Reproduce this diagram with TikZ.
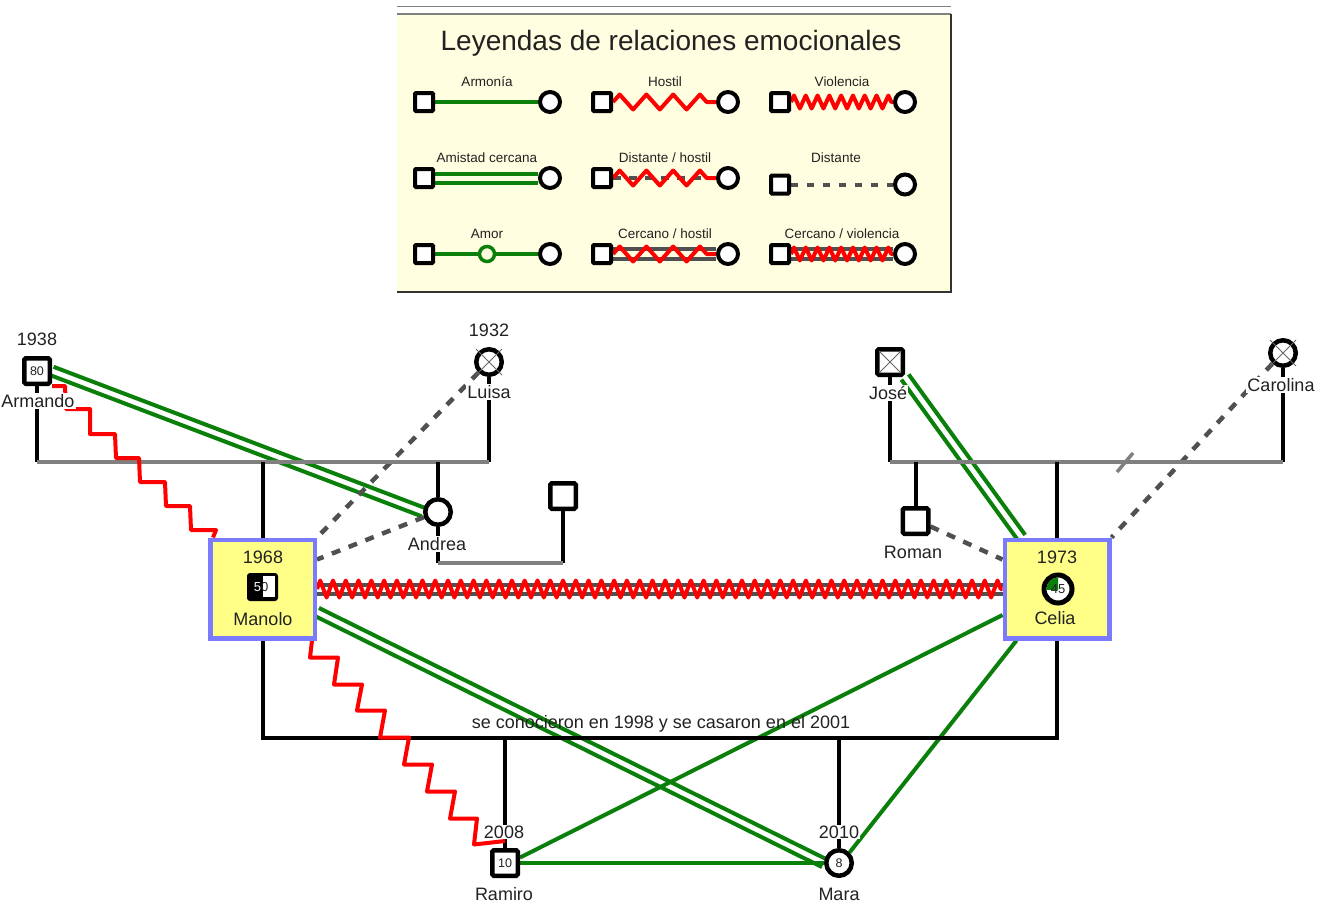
\documentclass[tikz,border=0pt]{standalone}
\usepackage{fontspec}
\setmainfont{Liberation Sans}
\usetikzlibrary{calc,decorations.pathmorphing}
\pgfdeclarelayer{bgl}\pgfdeclarelayer{rel}\pgfdeclarelayer{fam}\pgfdeclarelayer{redl}
\pgfsetlayers{bgl,rel,fam,redl,main}
\definecolor{grn}{HTML}{0A800A}
\definecolor{dgray}{HTML}{505050}
\definecolor{fgray}{HTML}{808080}
\definecolor{boxy}{HTML}{FFFF88}
\definecolor{boxb}{HTML}{7B7BFF}
\definecolor{legbg}{HTML}{FFFEE0}
\definecolor{txt}{HTML}{222222}
\newcommand\fs[1]{\fontsize{#1}{#1}\selectfont}
\newcommand\twolines[4]{%
  \draw[#1] ($(#3)!#2!90:(#4)$) -- ($(#4)!#2!-90:(#3)$);
  \draw[#1] ($(#3)!#2!-90:(#4)$) -- ($(#4)!#2!90:(#3)$);}
\tikzset{
  sq/.style={draw=black, line width=4.5pt, fill=white, minimum size=25.5pt, inner sep=0pt, rounded corners=1.5pt, font=\fs{12.5}, text=txt},
  ci/.style={circle, draw=black, line width=4.5pt, fill=white, minimum size=25.5pt, inner sep=0pt, font=\fs{12.5}, text=txt},
  lsq/.style={draw=black, line width=4pt, fill=white, minimum size=18pt, inner sep=0pt, rounded corners=1pt},
  lci/.style={circle, draw=black, line width=4pt, fill=white, minimum size=20pt, inner sep=0pt},
  lbl/.style={font=\fs{18}, text=txt, fill=white, inner sep=1pt},
  boxlbl/.style={font=\fs{18}, text=txt, inner sep=0pt},
  llbl/.style={font=\fs{13.5}, text=txt, inner sep=0pt},
  fambox/.style={draw=boxb, fill=boxy, line width=4.5pt, minimum width=104.5pt, minimum height=98.5pt, inner sep=0pt},
  famline/.style={line width=4pt, black},
  sibline/.style={line width=4.5pt, fgray},
  grnline/.style={line width=4pt, grn},
  dgl/.style={line width=4pt, dgray},
  dashline/.style={line width=4.5pt, dgray, dash pattern=on 9pt off 9pt},
  redline/.style={line width=4pt, red, line join=round},
  zz/.style 2 args={redline, decorate, decoration={zigzag, segment length=#1, amplitude=#2}},
  xm/.style={line width=0.8pt, black!60},
}
\begin{document}
\begin{tikzpicture}[x=1pt,y=-1pt]
\useasboundingbox (0,0) rectangle (1325,903);
% ---------------- legend ----------------
\begin{pgfonlayer}{bgl}
\fill[legbg] (397,14) rectangle (951,292);
\end{pgfonlayer}
\draw[gray, line width=1.5pt] (397,6.5) -- (951,6.5);
\draw[gray, line width=1.5pt] (397,14) -- (951,14);
\draw[black!80, line width=1.5pt] (951,14) -- (951,292) -- (397,292);
\node[font=\fs{28}, text=txt, inner sep=0pt] (ttl) at (671,43) {Leyendas de relaciones emocionales};
\node[llbl] (l11) at (487,82) {Armonía};
\node[llbl] (l12) at (665,82) {Hostil};
\node[llbl] (l13) at (842,82) {Violencia};
\node[llbl] (l21) at (487,158) {Amistad cercana};
\node[llbl] (l22) at (665,158) {Distante / hostil};
\node[llbl] (l23) at (836,158) {Distante};
\node[llbl] (l31) at (487,234) {Amor};
\node[llbl] (l32) at (665,234) {Cercano / hostil};
\node[llbl] (l33) at (842,234) {Cercano / violencia};
\node[lsq] (s11) at (424,102) {}; \node[lci] (c11) at (550,102) {};
\node[lsq] (s12) at (602,102) {}; \node[lci] (c12) at (728,102) {};
\node[lsq] (s13) at (780,102) {}; \node[lci] (c13) at (905,102) {};
\node[lsq] (s21) at (424,178) {}; \node[lci] (c21) at (550,178) {};
\node[lsq] (s22) at (602,178) {}; \node[lci] (c22) at (728,178) {};
\node[lsq] (s23) at (780,184.5) {}; \node[lci] (c23) at (905,184.5) {};
\node[lsq] (s31) at (424,254) {}; \node[lci] (c31) at (550,254) {};
\node[circle, draw=grn, line width=3.5pt, fill=legbg, minimum size=15pt, inner sep=0pt] (amor) at (487,254) {};
\node[lsq] (s32) at (602,254) {}; \node[lci] (c32) at (728,254) {};
\node[lsq] (s33) at (780,254) {}; \node[lci] (c33) at (905,254) {};
\begin{pgfonlayer}{rel}
\draw[grnline] (s11) -- (c11);
\draw[zz={26.75pt}{7.5pt}] (s12.east) -- (c12.west);
\draw[zz={11.8pt}{6.5pt}] (s13.east) -- (c13.west);
\twolines{grnline}{4.5pt}{s21.east}{c21.west}
\draw[dashline, dash pattern=on 8pt off 8pt] (s22.east) -- (c22.west);
\draw[zz={26.75pt}{7.5pt}] (s22.east) -- (c22.west);
\draw[dashline, line width=4pt, dash pattern=on 7pt off 9pt] (s23.east) -- (c23.west);
\draw[grnline] (s31) -- (amor) -- (c31);
\twolines{dgl}{5pt}{s32.east}{c32.west}
\draw[zz={26.75pt}{7.5pt}] (s32.east) -- (c32.west);
\twolines{dgl}{5pt}{s33.east}{c33.west}
\draw[zz={11.8pt}{6.5pt}] (s33.east) -- (c33.west);
\end{pgfonlayer}
% ---------------- people ----------------
\node[sq] (arm) at (37,371) {80};
\node[lbl] (armY) at (37,339) {1938};
\node[lbl] (armN) at (38,401) {Armando};
\node[ci] (lui) at (489,362) {};
\node[lbl] (luiY) at (489,330) {1932};
\node[lbl] (luiN) at (489,392) {Luisa};
\node[ci] (and) at (438,512) {};
\node[lbl] (andN) at (437,544) {Andrea};
\node[sq] (apt) at (563,496) {};
\node[fambox] (mbox) at (262.5,589) {};
\node[boxlbl] (manY) at (263,557) {1968};
\node[boxlbl] (manN) at (263,619) {Manolo};
\node[fill=black, rounded corners=3pt, minimum width=31pt, minimum height=28pt, inner sep=0pt] (msym) at (262.5,587) {};
\node[fill=white, minimum width=12pt, minimum height=21pt, inner sep=0pt] (mwh) at (269,586.5) {};
\node[font=\fs{13}, text=txt, inner sep=0pt] (mage) at (261,587) {\textcolor{white}{5}0};
\node[fambox] (cbox) at (1057,589) {};
\node[boxlbl] (celY) at (1057,557) {1973};
\node[boxlbl] (celN) at (1055,618) {Celia};
\node[ci, line width=5pt, minimum size=28pt] (csym) at (1058,589) {};
\begin{scope}
\clip (csym.center) rectangle ++(-15,-15);
\fill[grn] (csym.center) circle[radius=11.5pt];
\end{scope}
\node[font=\fs{13}, text=txt, inner sep=0pt] (cage) at (1058,589) {45};
\node[sq] (jos) at (890,362) {};
\node[lbl] (josN) at (888,393) {José};
\node[ci] (car) at (1283,353) {};
\node[lbl] (carN) at (1281,385) {Carolina};
\node[sq] (rom) at (915.5,521) {};
\node[lbl] (romN) at (913,552) {Roman};
\node[sq] (ram) at (505,863) {10};
\node[lbl] (ramY) at (504,832) {2008};
\node[lbl] (ramN) at (504,894) {Ramiro};
\node[ci] (mar) at (839,863) {8};
\node[lbl] (marY) at (839,832) {2010};
\node[lbl] (marN) at (839,894) {Mara};
\node[boxlbl] (mtxt) at (661,724) {se conocieron en 1998 y se casaron en el 2001};
% X marks (deceased)
\draw[xm] ($(lui.center)+(-13,-13)$) -- ($(lui.center)+(13,13)$);
\draw[xm] ($(lui.center)+(13,-13)$) -- ($(lui.center)+(-13,13)$);
\draw[xm] ($(car.center)+(-13,-13)$) -- ($(car.center)+(13,13)$);
\draw[xm] ($(car.center)+(13,-13)$) -- ($(car.center)+(-13,13)$);
\draw[xm] ($(jos.center)+(-11,-11)$) -- ($(jos.center)+(11,11)$);
\draw[xm] ($(jos.center)+(11,-11)$) -- ($(jos.center)+(-11,11)$);
% ---------------- family lines ----------------
\coordinate (s1) at (0,462);
\coordinate (s3) at (0,563);
\coordinate (mm) at (0,738);
\coordinate (dv) at (1125,462);
\begin{pgfonlayer}{fam}
\draw[famline] (arm.south) -- (arm.south |- s1);
\draw[famline] (lui.south) -- (lui.south |- s1);
\draw[sibline] (arm.south |- s1) -- (lui.south |- s1);
\draw[famline] (mbox.north) -- (mbox.north |- s1);
\draw[famline] (and.north) -- (and.north |- s1);
\draw[famline] (and.south) -- (and.south |- s3);
\draw[famline] (apt.south) -- (apt.south |- s3);
\draw[sibline] (and.south |- s3) -- (apt.south |- s3);
\draw[famline] (jos.south) -- (jos.south |- s1);
\draw[famline] (car.south) -- (car.south |- s1);
\draw[sibline] (jos.south |- s1) -- (car.south |- s1);
\draw[famline] (rom.north) -- (rom.north |- s1);
\draw[famline] (cbox.north) -- (cbox.north |- s1);
\draw[sibline, line width=3.5pt] ($(dv)+(-8,10)$) -- ($(dv)+(8,-9)$);
\draw[famline] (mbox.south) -- (mbox.south |- mm) -- (cbox.south |- mm) -- (cbox.south);
\draw[famline] (ram.north) -- (ram.north |- mm);
\draw[famline] (mar.north) -- (mar.north |- mm);
\end{pgfonlayer}
% ---------------- relations ----------------
\coordinate (cJ) at ($(cbox.north west)+(19,0)$);
\coordinate (mM) at ($(mbox.east)+(0,23)$);
\coordinate (cR) at ($(cbox.west)+(0,26)$);
\coordinate (cM) at ($(cbox.south west)+(14,0)$);
\begin{pgfonlayer}{rel}
\twolines{grnline}{4.5pt}{arm.east}{and.west}
\twolines{grnline}{4.5pt}{jos.south east}{cJ}
\twolines{grnline}{4.5pt}{mM}{mar.west}
\draw[grnline] (cR) -- (ram.20);
\draw[grnline] (cM) -- (mar.north east);
\draw[grnline] (ram.east) -- (mar.west);
\draw[dashline] (lui.south west) -- (mbox.north east);
\draw[dashline] (and.200) -- ($(mbox.north east)+(0,22)$);
\draw[dashline] (car.south west) -- (cbox.north east);
\draw[dashline] (rom.-20) -- ($(cbox.north west)+(0,22)$);
\twolines{dgl}{4.5pt}{mbox.east}{cbox.west}
\draw[zz={12.78pt}{8.5pt}] (mbox.east) -- (cbox.west);
\end{pgfonlayer}
\begin{pgfonlayer}{redl}
\draw[redline] (arm.south east) -- ++(13,0) -- ++(1,23) -- ++(24,0) -- ++(0,25) -- ++(25,0)
  -- ++(1,24) -- ++(23,0) -- ++(1,24) -- ++(25,0) -- ++(1,24) -- ++(24,0) -- ++(1,24)
  -- ++(25,0) -- ($(mbox.north west)+(5,0)$);
\draw[redline] ($(mbox.south east)+(-5,0)$) -- ++(-2,17) -- ++(28,0) -- ++(-4,27) -- ++(28,0)
  -- ++(-5,26) -- ++(28,0) -- ++(-5,27) -- ++(29,0) -- ++(-5,27) -- ++(28,0) -- ++(-5,27)
  -- ++(28,0) -- ++(-5,27) -- ++(27,0) -- ++(-3,26) -- ($(ram.north)+(0,-7)$);
\end{pgfonlayer}
\end{tikzpicture}
\end{document}
